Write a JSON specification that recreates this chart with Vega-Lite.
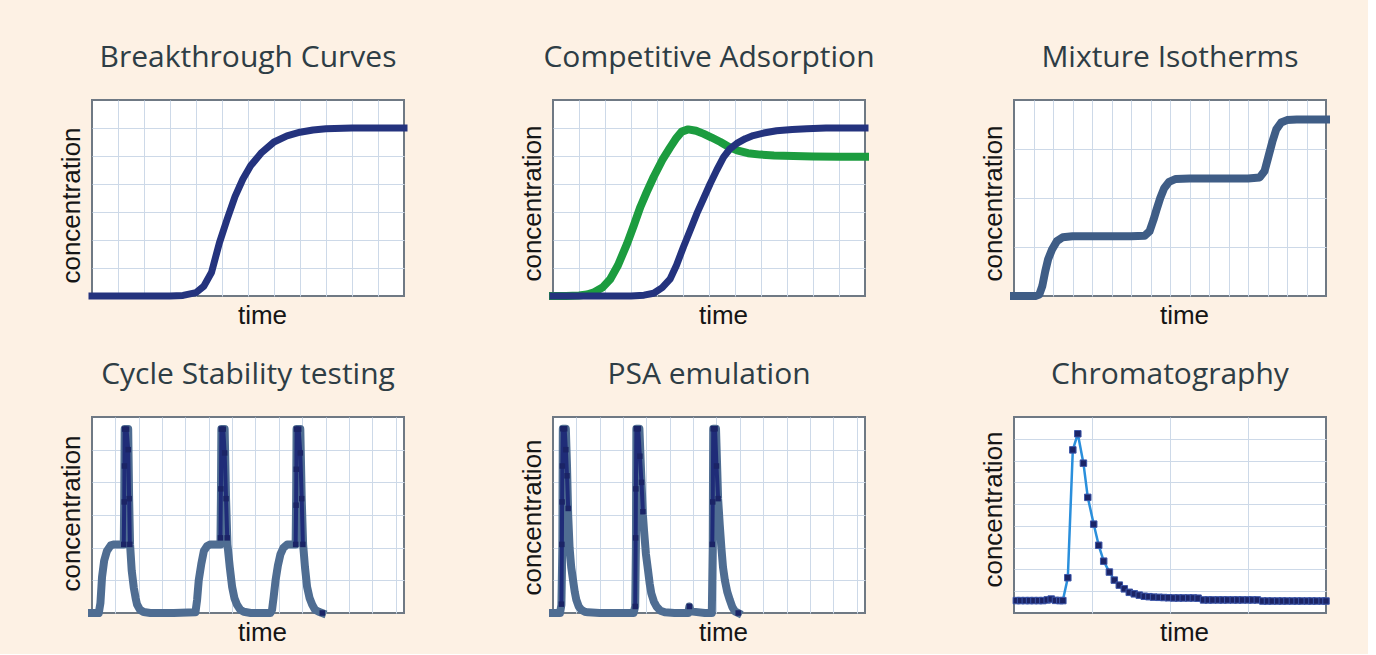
{
  "$schema": "https://vega.github.io/schema/vega-lite/v6.json",
  "background": "#fdf1e4",
  "padding": {"left": 57, "top": 42, "right": 35, "bottom": 8},
  "autosize": {"type": "pad"},
  "datasets": {
    "bt": [
      {"t":0,"c":0},{"t":1,"c":0},{"t":2,"c":0},{"t":3,"c":0},{"t":3.5,"c":0.02},{"t":4,"c":0.12},{"t":4.3,"c":0.35},{"t":4.6,"c":0.85},{"t":4.9,"c":1.9},{"t":5.2,"c":2.75},{"t":5.5,"c":3.55},{"t":5.8,"c":4.17},{"t":6.1,"c":4.65},{"t":6.5,"c":5.1},{"t":7,"c":5.5},{"t":7.5,"c":5.72},{"t":8,"c":5.85},{"t":8.5,"c":5.93},{"t":9,"c":5.97},{"t":10,"c":6},{"t":11,"c":6},{"t":12,"c":6}
    ],
    "ca": [
      {"s":"g","t":0,"c":0},{"s":"g","t":0.5,"c":0},{"s":"g","t":1,"c":0.02},{"s":"g","t":1.3,"c":0.05},{"s":"g","t":1.55,"c":0.12},{"s":"g","t":1.9,"c":0.3},{"s":"g","t":2.2,"c":0.6},{"s":"g","t":2.5,"c":1.1},{"s":"g","t":2.85,"c":1.87},{"s":"g","t":3.1,"c":2.5},{"s":"g","t":3.36,"c":3.18},{"s":"g","t":3.6,"c":3.7},{"s":"g","t":3.87,"c":4.25},{"s":"g","t":4.2,"c":4.85},{"s":"g","t":4.5,"c":5.3},{"s":"g","t":4.75,"c":5.65},{"s":"g","t":4.95,"c":5.87},{"s":"g","t":5.2,"c":5.95},{"s":"g","t":5.5,"c":5.9},{"s":"g","t":5.8,"c":5.79},{"s":"g","t":6.1,"c":5.66},{"s":"g","t":6.44,"c":5.5},{"s":"g","t":6.75,"c":5.33},{"s":"g","t":7.08,"c":5.2},{"s":"g","t":7.5,"c":5.1},{"s":"g","t":7.97,"c":5.05},{"s":"g","t":8.5,"c":5.02},{"s":"g","t":9.25,"c":5.0},{"s":"g","t":10,"c":4.98},{"s":"g","t":11,"c":4.97},{"s":"g","t":12,"c":4.97},
      {"s":"b","t":0,"c":0},{"s":"b","t":1,"c":0},{"s":"b","t":2,"c":0},{"s":"b","t":3,"c":0},{"s":"b","t":3.5,"c":0.03},{"s":"b","t":3.87,"c":0.1},{"s":"b","t":4.2,"c":0.3},{"s":"b","t":4.5,"c":0.6},{"s":"b","t":4.75,"c":1.1},{"s":"b","t":5.02,"c":1.76},{"s":"b","t":5.3,"c":2.4},{"s":"b","t":5.53,"c":2.94},{"s":"b","t":5.8,"c":3.5},{"s":"b","t":6.04,"c":4.0},{"s":"b","t":6.3,"c":4.5},{"s":"b","t":6.56,"c":4.96},{"s":"b","t":6.8,"c":5.25},{"s":"b","t":7.07,"c":5.45},{"s":"b","t":7.4,"c":5.62},{"s":"b","t":7.7,"c":5.73},{"s":"b","t":8.1,"c":5.82},{"s":"b","t":8.6,"c":5.9},{"s":"b","t":9.2,"c":5.95},{"s":"b","t":9.76,"c":5.97},{"s":"b","t":10.5,"c":6},{"s":"b","t":11,"c":6},{"s":"b","t":12,"c":6}
    ],
    "mi": [
      {"t":0,"c":0},{"t":0.5,"c":0},{"t":1.1,"c":0},{"t":1.3,"c":0.03},{"t":1.45,"c":0.2},{"t":1.6,"c":0.5},{"t":1.75,"c":0.75},{"t":1.95,"c":0.95},{"t":2.2,"c":1.12},{"t":2.5,"c":1.2},{"t":3,"c":1.22},{"t":4,"c":1.22},{"t":5,"c":1.22},{"t":6,"c":1.22},{"t":6.7,"c":1.23},{"t":6.95,"c":1.32},{"t":7.15,"c":1.55},{"t":7.3,"c":1.75},{"t":7.5,"c":2.0},{"t":7.7,"c":2.2},{"t":7.95,"c":2.33},{"t":8.3,"c":2.39},{"t":9,"c":2.4},{"t":10,"c":2.4},{"t":11,"c":2.4},{"t":12,"c":2.4},{"t":12.6,"c":2.42},{"t":12.85,"c":2.55},{"t":13.05,"c":2.85},{"t":13.25,"c":3.15},{"t":13.45,"c":3.4},{"t":13.7,"c":3.54},{"t":14,"c":3.59},{"t":14.5,"c":3.6},{"t":15,"c":3.6},{"t":16,"c":3.6}
    ],
    "cs": [
      {"s":"base","g":1,"t":0,"c":0},{"s":"base","g":1,"t":0.29,"c":0},{"s":"base","g":1,"t":0.36,"c":0.3},{"s":"base","g":1,"t":0.43,"c":1.1},{"s":"base","g":1,"t":0.52,"c":1.6},{"s":"base","g":1,"t":0.64,"c":1.9},{"s":"base","g":1,"t":0.8,"c":2.07},{"s":"base","g":1,"t":0.95,"c":2.1},{"s":"base","g":1,"t":1.2,"c":2.1},{"s":"base","g":1,"t":1.36,"c":2.1},{"s":"base","g":1,"t":1.38,"c":3.5},{"s":"base","g":1,"t":1.4,"c":5.63},{"s":"base","g":1,"t":1.55,"c":5.63},{"s":"base","g":1,"t":1.59,"c":3.5},{"s":"base","g":1,"t":1.63,"c":2.1},{"s":"base","g":1,"t":1.7,"c":1.3},{"s":"base","g":1,"t":1.79,"c":0.77},{"s":"base","g":1,"t":1.87,"c":0.45},{"s":"base","g":1,"t":1.93,"c":0.26},{"s":"base","g":1,"t":2.05,"c":0.1},{"s":"base","g":1,"t":2.21,"c":0.03},{"s":"base","g":1,"t":2.5,"c":0},{"s":"base","g":1,"t":3.5,"c":0},{"s":"base","g":1,"t":4.43,"c":0.02},
      {"s":"base","g":1,"t":4.5,"c":0.4},{"s":"base","g":1,"t":4.57,"c":1.0},{"s":"base","g":1,"t":4.68,"c":1.5},{"s":"base","g":1,"t":4.79,"c":1.9},{"s":"base","g":1,"t":4.93,"c":2.05},{"s":"base","g":1,"t":5.07,"c":2.1},{"s":"base","g":1,"t":5.3,"c":2.1},{"s":"base","g":1,"t":5.5,"c":2.1},{"s":"base","g":1,"t":5.52,"c":3.5},{"s":"base","g":1,"t":5.54,"c":5.63},{"s":"base","g":1,"t":5.68,"c":5.63},{"s":"base","g":1,"t":5.74,"c":3.5},{"s":"base","g":1,"t":5.8,"c":2.1},{"s":"base","g":1,"t":5.9,"c":1.4},{"s":"base","g":1,"t":6.0,"c":0.8},{"s":"base","g":1,"t":6.1,"c":0.45},{"s":"base","g":1,"t":6.21,"c":0.25},{"s":"base","g":1,"t":6.35,"c":0.1},{"s":"base","g":1,"t":6.5,"c":0.04},{"s":"base","g":1,"t":6.8,"c":0},{"s":"base","g":1,"t":7.64,"c":0},
      {"s":"base","g":1,"t":7.71,"c":0.1},{"s":"base","g":1,"t":7.78,"c":0.5},{"s":"base","g":1,"t":7.86,"c":1.0},{"s":"base","g":1,"t":7.96,"c":1.45},{"s":"base","g":1,"t":8.07,"c":1.8},{"s":"base","g":1,"t":8.2,"c":2.0},{"s":"base","g":1,"t":8.36,"c":2.1},{"s":"base","g":1,"t":8.55,"c":2.1},{"s":"base","g":1,"t":8.72,"c":2.1},{"s":"base","g":1,"t":8.74,"c":3.5},{"s":"base","g":1,"t":8.76,"c":5.63},{"s":"base","g":1,"t":8.92,"c":5.63},{"s":"base","g":1,"t":8.98,"c":3.5},{"s":"base","g":1,"t":9.04,"c":2.1},{"s":"base","g":1,"t":9.12,"c":1.4},{"s":"base","g":1,"t":9.21,"c":0.8},{"s":"base","g":1,"t":9.32,"c":0.45},{"s":"base","g":1,"t":9.43,"c":0.25},{"s":"base","g":1,"t":9.55,"c":0.1},{"s":"base","g":1,"t":9.71,"c":0.04},{"s":"base","g":1,"t":9.86,"c":0},
      {"s":"spike","g":1,"t":1.36,"c":2.1},{"s":"spike","g":1,"t":1.38,"c":3.4},{"s":"spike","g":1,"t":1.39,"c":4.5},{"s":"spike","g":1,"t":1.4,"c":5.63},{"s":"spike","g":1,"t":1.48,"c":5.63},{"s":"spike","g":1,"t":1.55,"c":5.0},{"s":"spike","g":1,"t":1.59,"c":3.5},{"s":"spike","g":1,"t":1.62,"c":2.1},
      {"s":"spike","g":2,"t":5.5,"c":2.3},{"s":"spike","g":2,"t":5.52,"c":3.8},{"s":"spike","g":2,"t":5.54,"c":5.63},{"s":"spike","g":2,"t":5.62,"c":5.63},{"s":"spike","g":2,"t":5.68,"c":4.9},{"s":"spike","g":2,"t":5.74,"c":3.5},{"s":"spike","g":2,"t":5.79,"c":2.3},
      {"s":"spike","g":3,"t":8.72,"c":2.1},{"s":"spike","g":3,"t":8.74,"c":3.3},{"s":"spike","g":3,"t":8.75,"c":4.4},{"s":"spike","g":3,"t":8.76,"c":5.63},{"s":"spike","g":3,"t":8.85,"c":5.63},{"s":"spike","g":3,"t":8.92,"c":4.9},{"s":"spike","g":3,"t":8.98,"c":3.5},{"s":"spike","g":3,"t":9.03,"c":2.1},
      {"s":"end","g":4,"t":9.86,"c":0}
    ],
    "psa": [
      {"s":"base","g":1,"t":0,"c":0},{"s":"base","g":1,"t":0.3,"c":0},{"s":"base","g":1,"t":0.36,"c":0.25},{"s":"base","g":1,"t":0.4,"c":2},{"s":"base","g":1,"t":0.42,"c":5.64},{"s":"base","g":1,"t":0.55,"c":5.64},{"s":"base","g":1,"t":0.6,"c":4.5},{"s":"base","g":1,"t":0.65,"c":3.0},{"s":"base","g":1,"t":0.71,"c":2.0},{"s":"base","g":1,"t":0.78,"c":1.4},{"s":"base","g":1,"t":0.86,"c":1.0},{"s":"base","g":1,"t":0.93,"c":0.65},{"s":"base","g":1,"t":1.0,"c":0.4},{"s":"base","g":1,"t":1.1,"c":0.2},{"s":"base","g":1,"t":1.21,"c":0.1},{"s":"base","g":1,"t":1.35,"c":0.04},{"s":"base","g":1,"t":1.5,"c":0.02},{"s":"base","g":1,"t":2,"c":0},{"s":"base","g":1,"t":3,"c":0},{"s":"base","g":1,"t":3.45,"c":0},
      {"s":"base","g":1,"t":3.52,"c":0.2},{"s":"base","g":1,"t":3.55,"c":2},{"s":"base","g":1,"t":3.57,"c":5.64},{"s":"base","g":1,"t":3.7,"c":5.64},{"s":"base","g":1,"t":3.79,"c":4.0},{"s":"base","g":1,"t":3.85,"c":3.0},{"s":"base","g":1,"t":3.9,"c":2.5},{"s":"base","g":1,"t":3.98,"c":1.8},{"s":"base","g":1,"t":4.07,"c":1.3},{"s":"base","g":1,"t":4.14,"c":0.9},{"s":"base","g":1,"t":4.21,"c":0.6},{"s":"base","g":1,"t":4.32,"c":0.35},{"s":"base","g":1,"t":4.43,"c":0.2},{"s":"base","g":1,"t":4.6,"c":0.07},{"s":"base","g":1,"t":4.79,"c":0.02},{"s":"base","g":1,"t":5.2,"c":0},{"s":"base","g":1,"t":5.79,"c":0},{"s":"base","g":1,"t":5.84,"c":0.2},{"s":"base","g":1,"t":5.9,"c":0.05},{"s":"base","g":1,"t":6.5,"c":0},
      {"s":"base","g":1,"t":6.8,"c":0},{"s":"base","g":1,"t":6.84,"c":2},{"s":"base","g":1,"t":6.86,"c":5.64},{"s":"base","g":1,"t":6.98,"c":5.64},{"s":"base","g":1,"t":7.07,"c":3.5},{"s":"base","g":1,"t":7.14,"c":2.7},{"s":"base","g":1,"t":7.21,"c":2.0},{"s":"base","g":1,"t":7.28,"c":1.4},{"s":"base","g":1,"t":7.36,"c":1.0},{"s":"base","g":1,"t":7.46,"c":0.65},{"s":"base","g":1,"t":7.57,"c":0.4},{"s":"base","g":1,"t":7.68,"c":0.18},{"s":"base","g":1,"t":7.79,"c":0.05},{"s":"base","g":1,"t":7.93,"c":0},
      {"s":"spike","g":1,"t":0.36,"c":0.27},{"s":"spike","g":1,"t":0.38,"c":2.1},{"s":"spike","g":1,"t":0.39,"c":3.4},{"s":"spike","g":1,"t":0.4,"c":4.5},{"s":"spike","g":1,"t":0.42,"c":5.64},{"s":"spike","g":1,"t":0.5,"c":5.64},{"s":"spike","g":1,"t":0.55,"c":5.0},{"s":"spike","g":1,"t":0.6,"c":4.2},{"s":"spike","g":1,"t":0.65,"c":3.2},
      {"s":"spike","g":2,"t":3.52,"c":0.2},{"s":"spike","g":2,"t":3.54,"c":2.3},{"s":"spike","g":2,"t":3.55,"c":3.8},{"s":"spike","g":2,"t":3.57,"c":5.64},{"s":"spike","g":2,"t":3.65,"c":5.64},{"s":"spike","g":2,"t":3.72,"c":4.8},{"s":"spike","g":2,"t":3.79,"c":4.0},{"s":"spike","g":2,"t":3.85,"c":3.1},
      {"s":"spike","g":3,"t":6.82,"c":2.1},{"s":"spike","g":3,"t":6.84,"c":3.4},{"s":"spike","g":3,"t":6.86,"c":5.64},{"s":"spike","g":3,"t":6.94,"c":5.64},{"s":"spike","g":3,"t":7.0,"c":4.5},{"s":"spike","g":3,"t":7.07,"c":3.5},
      {"s":"end","g":4,"t":5.84,"c":0.2},{"s":"end","g":5,"t":7.93,"c":0}
    ],
    "chr": [
      {"t":0.03,"c":0.57},{"t":0.085,"c":0.57},{"t":0.145,"c":0.57},{"t":0.2,"c":0.57},{"t":0.256,"c":0.57},{"t":0.315,"c":0.57},{"t":0.37,"c":0.57},{"t":0.426,"c":0.6},{"t":0.477,"c":0.64},{"t":0.532,"c":0.58},{"t":0.588,"c":0.57},{"t":0.626,"c":0.57},{"t":0.69,"c":1.62},{"t":0.754,"c":7.49},{"t":0.818,"c":8.23},{"t":0.89,"c":6.88},{"t":0.946,"c":5.31},{"t":1.022,"c":4.08},{"t":1.086,"c":3.11},{"t":1.15,"c":2.38},{"t":1.223,"c":1.88},{"t":1.286,"c":1.51},{"t":1.35,"c":1.28},{"t":1.414,"c":1.11},{"t":1.478,"c":0.95},{"t":1.542,"c":0.88},{"t":1.606,"c":0.82},{"t":1.67,"c":0.77},{"t":1.73,"c":0.75},{"t":1.79,"c":0.73},{"t":1.86,"c":0.72},{"t":1.92,"c":0.71},{"t":1.98,"c":0.7},{"t":2.05,"c":0.69},{"t":2.11,"c":0.69},{"t":2.17,"c":0.69},{"t":2.24,"c":0.69},{"t":2.3,"c":0.69},{"t":2.36,"c":0.68},{"t":2.43,"c":0.6},{"t":2.49,"c":0.6},{"t":2.55,"c":0.6},{"t":2.62,"c":0.6},{"t":2.68,"c":0.6},{"t":2.74,"c":0.6},{"t":2.81,"c":0.6},{"t":2.87,"c":0.6},{"t":2.93,"c":0.6},{"t":3.0,"c":0.6},{"t":3.06,"c":0.6},{"t":3.12,"c":0.6},{"t":3.19,"c":0.55},{"t":3.25,"c":0.55},{"t":3.31,"c":0.55},{"t":3.38,"c":0.55},{"t":3.44,"c":0.55},{"t":3.5,"c":0.55},{"t":3.57,"c":0.55},{"t":3.63,"c":0.55},{"t":3.69,"c":0.55},{"t":3.76,"c":0.55},{"t":3.82,"c":0.55},{"t":3.88,"c":0.55},{"t":3.95,"c":0.55},{"t":4.0,"c":0.55}
    ]
  },
  "bounds": "flush",
  "columns": 3,
  "spacing": {"row": 121, "column": 149},
  "concat": [
        {
          "width": 312, "height": 196,
          "title": "Breakthrough Curves",
          "data": {"name": "bt"},
          "mark": {"type": "line", "color": "#24337e", "strokeWidth": 7, "strokeCap": "square", "strokeJoin": "round"},
          "encoding": {
            "x": {"field": "t", "type": "quantitative", "scale": {"domain": [0, 12], "nice": false}, "axis": {"values": [1,2,3,4,5,6,7,8,9,10,11], "title": "time"}},
            "y": {"field": "c", "type": "quantitative", "scale": {"domain": [0, 7], "nice": false}, "axis": {"values": [1,2,3,4,5,6], "title": "concentration", "titleY": 105}}
          }
        },
        {
          "width": 312, "height": 196,
          "title": "Competitive Adsorption",
          "data": {"name": "ca"},
          "encoding": {
            "x": {"field": "t", "type": "quantitative", "scale": {"domain": [0, 12], "nice": false}, "axis": {"values": [1,2,3,4,5,6,7,8,9,10,11], "title": "time"}},
            "y": {"field": "c", "type": "quantitative", "scale": {"domain": [0, 7], "nice": false}, "axis": {"values": [1,2,3,4,5,6], "title": "concentration", "titleY": 103}}
          },
          "layer": [
            {"transform": [{"filter": "datum.s == 'g'"}], "mark": {"type": "line", "color": "#1c9c3f", "strokeWidth": 8, "strokeCap": "square", "strokeJoin": "round"}},
            {"transform": [{"filter": "datum.s == 'b'"}], "mark": {"type": "line", "color": "#24337e", "strokeWidth": 7, "strokeCap": "square", "strokeJoin": "round"}}
          ]
        },
        {
          "width": 312, "height": 196,
          "title": "Mixture Isotherms",
          "data": {"name": "mi"},
          "mark": {"type": "line", "color": "#3f5d86", "strokeWidth": 8, "strokeCap": "square", "strokeJoin": "round"},
          "encoding": {
            "x": {"field": "t", "type": "quantitative", "scale": {"domain": [0, 16], "nice": false}, "axis": {"values": [1,2,3,4,5,6,7,8,9,10,11,12,13,14,15], "title": "time"}},
            "y": {"field": "c", "type": "quantitative", "scale": {"domain": [0, 4], "nice": false}, "axis": {"values": [1,2,3], "title": "concentration", "titleY": 103}}
          }
        },
        {
          "width": 312, "height": 196,
          "title": "Cycle Stability testing",
          "data": {"name": "cs"},
          "encoding": {
            "x": {"field": "t", "type": "quantitative", "scale": {"domain": [0, 13.36], "nice": false}, "axis": {"values": [1,2,3,4,5,6,7,8,9,10,11,12,13], "title": "time"}},
            "y": {"field": "c", "type": "quantitative", "scale": {"domain": [0, 6], "nice": false}, "axis": {"values": [1,2,3,4,5], "title": "concentration", "titleY": 96}}
          },
          "layer": [
            {"transform": [{"filter": "datum.s == 'base'"}], "mark": {"type": "line", "color": "#4f6d92", "strokeWidth": 8, "strokeCap": "square", "strokeJoin": "round"}},
            {"transform": [{"filter": "datum.s == 'spike'"}], "mark": {"type": "line", "color": "#1f2c78", "strokeWidth": 4, "strokeJoin": "round"}, "encoding": {"detail": {"field": "g", "type": "nominal"}}},
            {"transform": [{"filter": "datum.s != 'base'"}], "mark": {"type": "point", "shape": "square", "filled": true, "color": "#1b2466", "size": 30, "opacity": 1}}
          ]
        },
        {
          "width": 312, "height": 196,
          "title": "PSA emulation",
          "data": {"name": "psa"},
          "encoding": {
            "x": {"field": "t", "type": "quantitative", "scale": {"domain": [0, 13.36], "nice": false}, "axis": {"values": [1,2,3,4,5,6,7,8,9,10,11,12,13], "title": "time"}},
            "y": {"field": "c", "type": "quantitative", "scale": {"domain": [0, 6], "nice": false}, "axis": {"values": [1,2,3,4,5], "title": "concentration", "titleY": 100}}
          },
          "layer": [
            {"transform": [{"filter": "datum.s == 'base'"}], "mark": {"type": "line", "color": "#4f6d92", "strokeWidth": 8, "strokeCap": "square", "strokeJoin": "round"}},
            {"transform": [{"filter": "datum.s == 'spike'"}], "mark": {"type": "line", "color": "#1f2c78", "strokeWidth": 4, "strokeJoin": "round"}, "encoding": {"detail": {"field": "g", "type": "nominal"}}},
            {"transform": [{"filter": "datum.s != 'base'"}], "mark": {"type": "point", "shape": "square", "filled": true, "color": "#1b2466", "size": 30, "opacity": 1}}
          ]
        },
        {
          "width": 312, "height": 196,
          "title": "Chromatography",
          "data": {"name": "chr"},
          "encoding": {
            "x": {"field": "t", "type": "quantitative", "scale": {"domain": [0, 4], "nice": false}, "axis": {"values": [1,2,3], "title": "time"}},
            "y": {"field": "c", "type": "quantitative", "scale": {"domain": [0, 9], "nice": false}, "axis": {"values": [1,2,3,4,5,6,7,8], "title": "concentration", "titleY": 92}}
          },
          "layer": [
            {"mark": {"type": "line", "color": "#2a8fdc", "strokeWidth": 2.5, "strokeJoin": "round"}},
            {"mark": {"type": "point", "shape": "square", "filled": true, "color": "#1b2466", "size": 42, "opacity": 1, "stroke": "#3b55a8", "strokeWidth": 1}}
          ]
        }
  ],
  "config": {
    "view": {"stroke": "#6f7984", "strokeWidth": 2, "fill": "white"},
    "axis": {"labels": false, "ticks": false, "domain": false, "grid": true, "gridColor": "#cdd9e8", "gridWidth": 1, "titleFont": "Liberation Sans", "titleFontSize": 26, "titleFontWeight": "normal", "titleColor": "#151515", "titlePadding": 8},
    "axisX": {"titlePadding": 6, "titleX": 170},
    "title": {"font": "Open Sans", "fontSize": 30, "fontWeight": "normal", "color": "#2e3d45", "offset": 27}
  }
}
